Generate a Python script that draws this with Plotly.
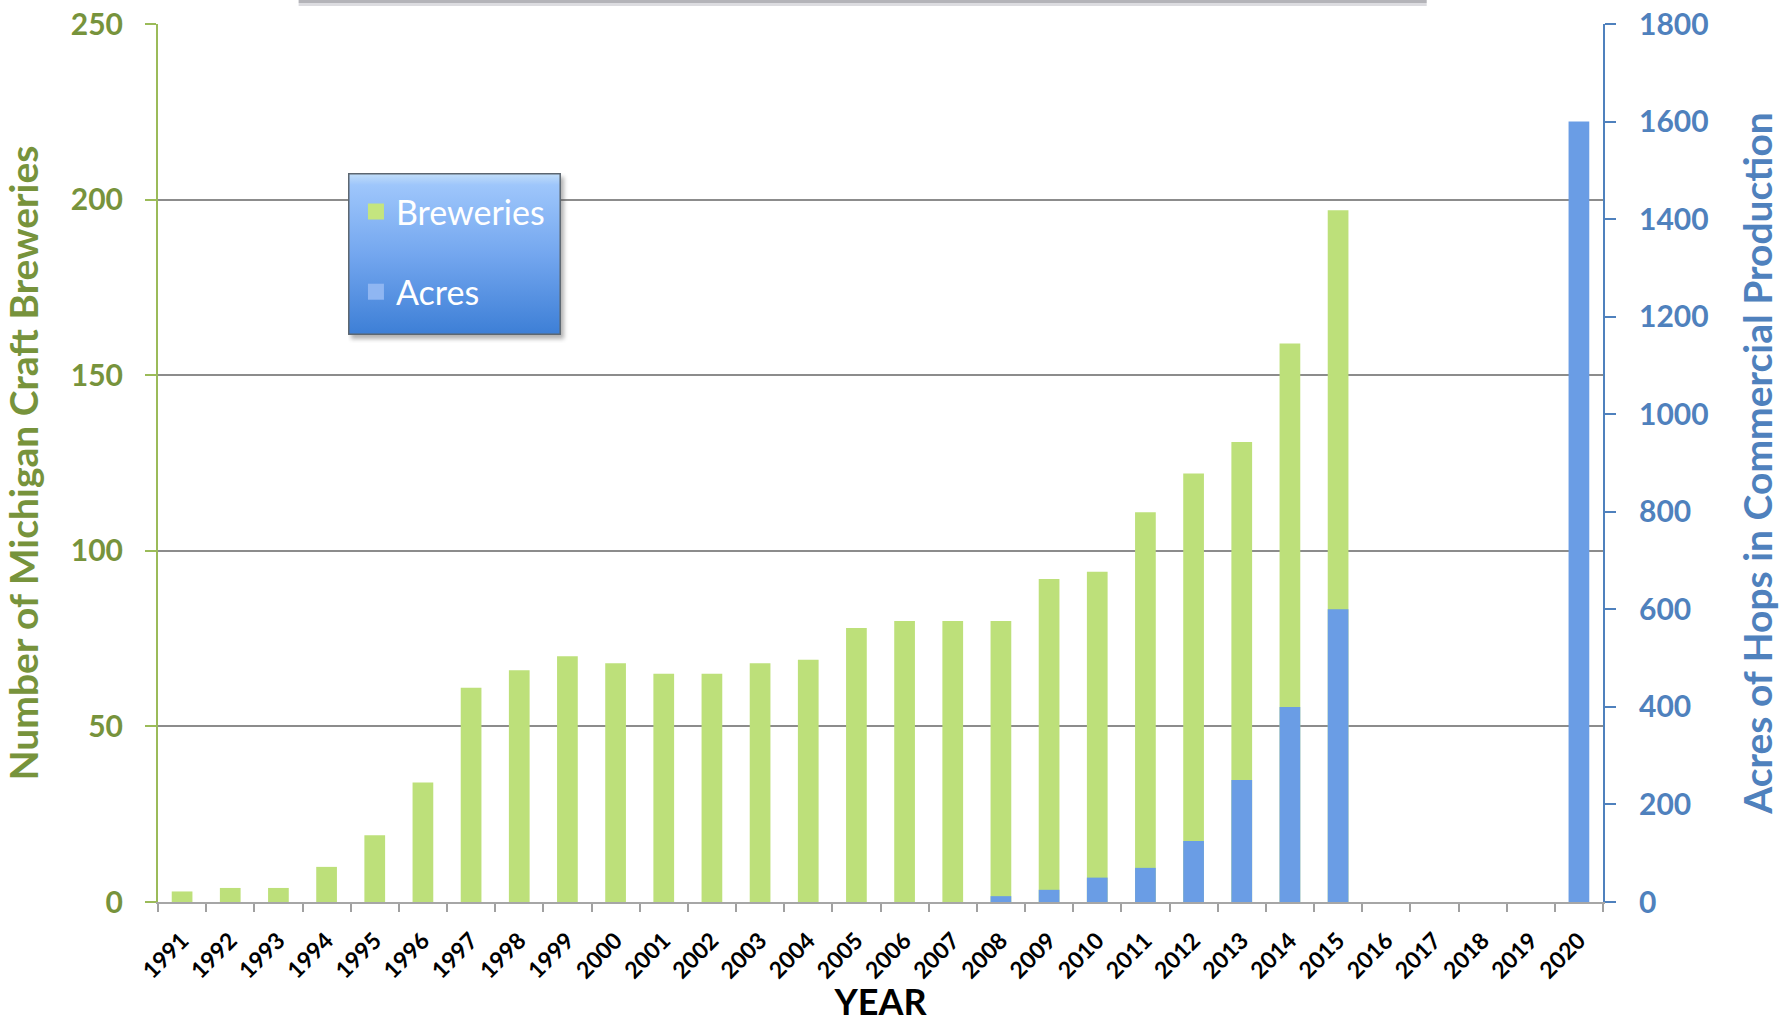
import base64
import plotly.graph_objects as go

# Michigan craft breweries vs hop acreage
years = [str(y) for y in range(1991, 2021)]
breweries = [3, 4, 4, 10, 19, 34, 61, 66, 70, 68, 65, 65, 68, 69, 78,
             80, 80, 80, 92, 94, 111, 122, 131, 159, 197,
             None, None, None, None, None]
acres = [None] * 17 + [12, 25, 50, 70, 125, 250, 400, 600,
                       None, None, None, None, 1600]

GREEN = "#77933c"
BLUE = "#4f81bd"
BAR_GREEN = "#bde07a"
BAR_BLUE = "#6a9de5"
FONT = "Lato, 'Open Sans', sans-serif"

fig = go.Figure()
fig.add_trace(go.Bar(
    x=years, y=breweries, name="Breweries", showlegend=False,
    marker=dict(color=BAR_GREEN, line=dict(width=0)), yaxis="y",
))
fig.add_trace(go.Bar(
    x=years, y=acres, name="Acres", showlegend=False,
    marker=dict(color=BAR_BLUE, line=dict(width=0)), yaxis="y2",
))

# legend entries with bigger square swatches
for name, col, grp in [("Breweries", "#c4e57f", "b"), ("Acres", "#8fb6f2", "a")]:
    fig.add_trace(go.Scatter(
        x=[None], y=[None], mode="markers", name=name, legendgroup=grp,
        marker=dict(symbol="square", size=16, color=col),
    ))

# blue gradient panel (with drop shadow) sitting behind the legend
panel_svg = (
    '<svg xmlns="http://www.w3.org/2000/svg" width="221" height="170" '
    'viewBox="0 0 221 170" preserveAspectRatio="none">'
    '<defs><linearGradient id="g" x1="0" y1="0" x2="0" y2="1">'
    '<stop offset="0" stop-color="#c2def9"/>'
    '<stop offset="0.07" stop-color="#9ec6fb"/>'
    '<stop offset="0.5" stop-color="#74a7ef"/>'
    '<stop offset="1" stop-color="#3d7fd6"/></linearGradient>'
    '<filter id="b"><feGaussianBlur stdDeviation="2"/></filter></defs>'
    '<rect x="3" y="4" width="213" height="162" fill="#555" opacity="0.45" filter="url(#b)"/>'
    '<rect x="0.75" y="0.75" width="211.5" height="160.5" fill="url(#g)" '
    'stroke="#5c6670" stroke-width="1.5"/></svg>'
)
fig.add_layout_image(
    source="data:image/svg+xml;base64," + base64.b64encode(panel_svg.encode()).decode(),
    xref="paper", yref="paper", x=0.1315, y=0.8303,
    sizex=0.1529, sizey=0.1936, xanchor="left", yanchor="top",
    sizing="stretch", layer="above",
)

# shadow of the cropped title box at the very top
fig.add_shape(type="rect", xref="paper", yref="paper",
              x0=0.0973, x1=0.878, y0=1.0239, y1=1.0273,
              fillcolor="#b4b4b9", line=dict(width=0), layer="above")
fig.add_shape(type="rect", xref="paper", yref="paper",
              x0=0.0973, x1=0.878, y0=1.0205, y1=1.0239,
              fillcolor="#dcdce0", line=dict(width=0), layer="above")

fig.update_layout(
    width=1787, height=1023,
    paper_bgcolor="white", plot_bgcolor="white",
    font=dict(family=FONT, color="black"),
    margin=dict(l=158, r=184, t=24, b=121),
    barmode="overlay", bargap=0.57,
    showlegend=True,
    legend=dict(
        x=0.137, y=0.819, xanchor="left", yanchor="top",
        bgcolor="rgba(0,0,0,0)", borderwidth=0,
        font=dict(family=FONT, size=34, color="white"),
        traceorder="grouped", tracegroupgap=33, itemsizing="trace",
    ),
    xaxis=dict(
        type="category", tickangle=-45, automargin=False,
        tickfont=dict(family=FONT, size=23, color="black", weight="bold"),
        ticks="outside", ticklen=8, tickcolor="#a0a0a0", tickwidth=2,
        tickson="boundaries", ticklabelstandoff=14,
        showline=True, linecolor="#a6a6a6", linewidth=2,
        showgrid=False,
        title=dict(text="YEAR", standoff=6,
                   font=dict(family=FONT, size=36, color="black", weight="bold")),
    ),
    yaxis=dict(
        range=[0, 250], dtick=50, automargin=False,
        tickfont=dict(family=FONT, size=30, color=GREEN, weight="bold"),
        ticks="outside", ticklen=11, tickcolor="#9bbb59", tickwidth=2,
        ticklabelstandoff=16, ticklabeloverflow="allow",
        showline=True, linecolor="#9bbb59", linewidth=2,
        showgrid=True, gridcolor="#8c8c8c", gridwidth=2, zeroline=False,
        title=dict(text="Number of Michigan Craft Breweries", standoff=23,
                   font=dict(family=FONT, size=39, color=GREEN, weight="bold")),
    ),
    yaxis2=dict(
        overlaying="y", side="right",
        range=[0, 1800], dtick=200, automargin=False,
        tickfont=dict(family=FONT, size=30, color=BLUE, weight="bold"),
        ticks="outside", ticklen=11, tickcolor=BLUE, tickwidth=2,
        ticklabelstandoff=17, ticklabeloverflow="allow",
        showline=True, linecolor=BLUE, linewidth=2,
        showgrid=False, zeroline=False,
        title=dict(text="Acres of Hops in Commercial Production", standoff=37,
                   font=dict(family=FONT, size=39, color=BLUE, weight="bold")),
    ),
)

# drop the default page margin so the figure sits flush with the window
fig.write_html("out.html", config={"displayModeBar": False},
               post_script="document.body.style.margin='0';")
